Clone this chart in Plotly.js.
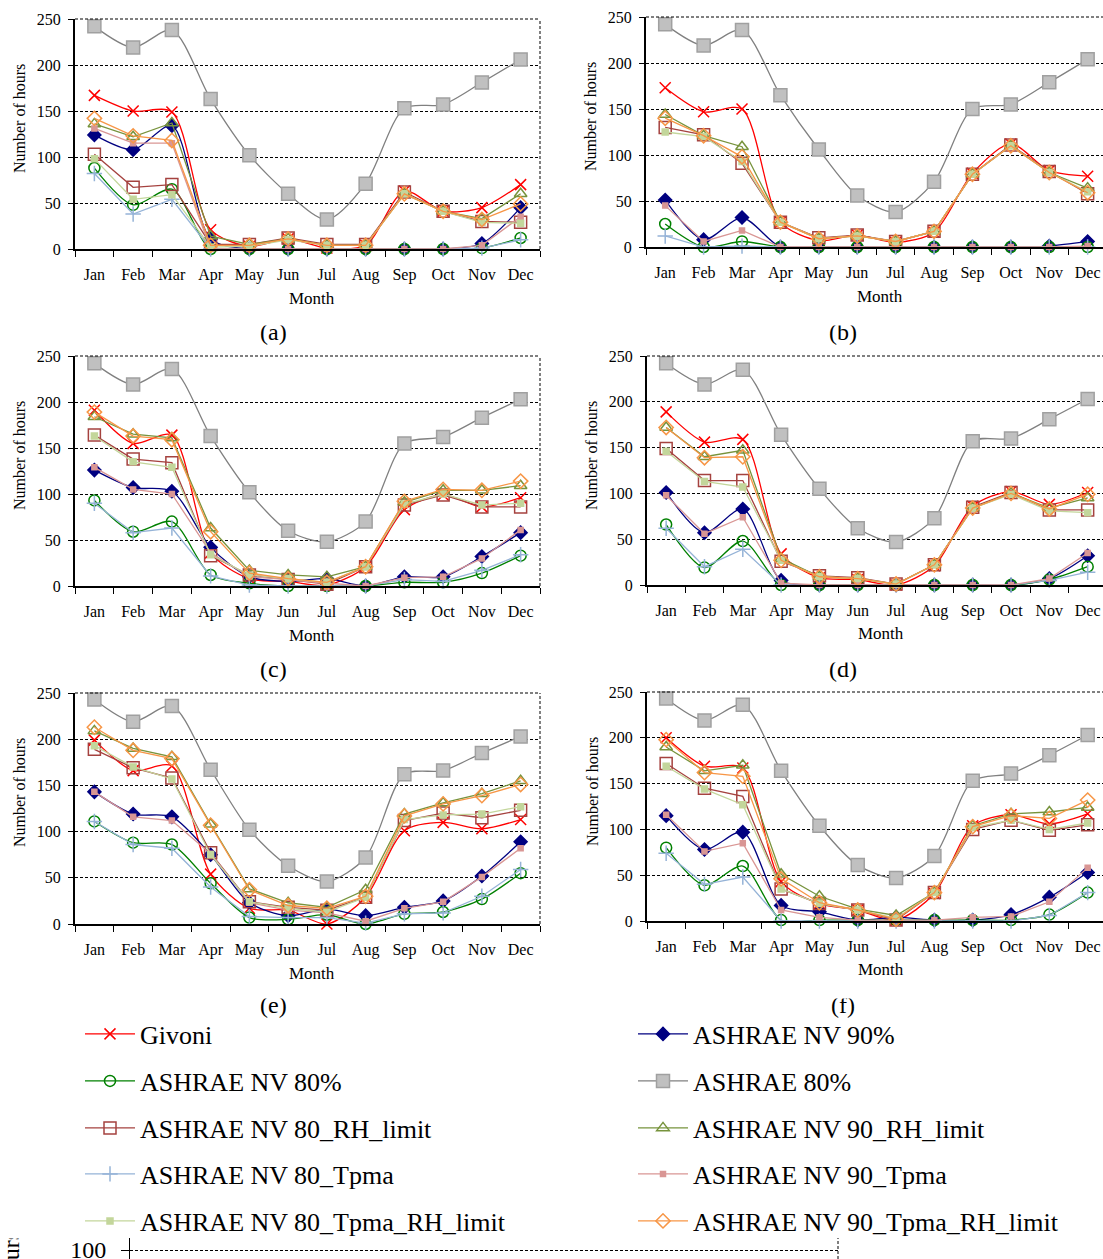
<!DOCTYPE html>
<html>
<head>
<meta charset="utf-8">
<script src="https://cdn.plot.ly/plotly-3.0.1.min.js"></script>
<style>html,body{margin:0;padding:0;background:#fff;}#chart{width:1103px;height:1259px;}</style>
</head>
<body>
<div id="chart"></div>
<script>
const months = ['Jan','Feb','Mar','Apr','May','Jun','Jul','Aug','Sep','Oct','Nov','Dec'];
const seriesNames = ['Givoni','ASHRAE NV 90%','ASHRAE NV 80%','ASHRAE 80%','ASHRAE NV 80_RH_limit','ASHRAE NV 90_RH_limit','ASHRAE NV 80_Tpma','ASHRAE NV 90_Tpma','ASHRAE NV 80_Tpma_RH_limit','ASHRAE NV 90_Tpma_RH_limit'];
const panelLabels = ['(a)','(b)','(c)','(d)','(e)','(f)'];
const yTicks = [0,50,100,150,200,250];

// rows follow seriesNames order
const panelA = [
  [167,150,149,21,3,11,1,4,63,41,45,70],
  [124,108,134,11,0,0,0,0,0,0,6,45],
  [88,48,65,0,0,0,0,0,0,0,1,12],
  [242,219,238,163,102,60,32,71,153,157,181,206],
  [103,67,70,5,5,12,5,5,62,41,30,29],
  [136,122,137,14,5,11,4,4,60,41,33,60],
  [82,38,54,0,0,0,0,0,0,0,1,10],
  [131,115,115,0,0,0,0,0,0,0,4,35],
  [98,54,59,2,3,10,4,4,60,41,29,28],
  [142,123,118,4,4,11,4,4,60,41,32,49]
];
const panelB = [
  [173,147,150,27,7,13,5,16,80,112,83,77],
  [51,8,32,0,0,0,0,0,0,0,1,6],
  [25,0,6,0,0,0,0,0,0,0,0,0],
  [242,219,236,165,106,56,38,71,150,155,179,204],
  [130,122,91,27,10,13,6,17,79,111,82,58],
  [144,121,109,27,9,12,6,17,79,110,81,64],
  [12,0,1,0,0,0,0,0,0,0,0,0],
  [45,6,18,0,0,0,0,0,0,0,0,1],
  [125,120,93,27,9,12,6,17,79,110,81,60],
  [140,121,98,27,9,12,6,17,79,110,81,59]
];
const panelC = [
  [191,155,164,36,8,5,1,21,83,99,86,96],
  [126,107,103,42,10,5,8,0,10,10,32,58],
  [93,59,70,12,3,0,0,0,4,4,14,33],
  [242,219,236,163,102,60,48,70,155,162,183,203],
  [164,138,134,33,12,7,2,21,88,99,86,86],
  [184,165,161,63,17,12,10,21,91,104,104,109],
  [90,58,63,11,1,0,0,0,7,5,17,34],
  [129,105,100,36,10,7,3,0,9,10,30,61],
  [163,135,129,34,12,8,4,21,89,100,88,90],
  [189,163,159,59,14,8,4,21,92,105,104,114]
];
const panelD = [
  [189,156,159,34,8,6,0,21,86,102,88,101],
  [101,57,83,5,0,0,0,0,0,0,7,32],
  [66,19,48,0,0,0,0,0,0,0,6,20],
  [242,219,235,164,105,62,47,73,157,160,181,203],
  [149,114,114,26,10,8,1,22,85,101,82,82],
  [172,140,147,29,9,7,1,22,84,100,84,95],
  [62,20,39,0,0,0,0,0,0,0,5,14],
  [98,56,74,2,0,0,0,0,0,0,7,35],
  [146,113,107,27,9,7,1,22,84,99,81,79],
  [172,139,140,27,9,7,1,22,84,100,83,99]
];
const panelE = [
  [199,166,171,54,17,15,0,29,101,110,103,113],
  [143,119,116,75,23,9,16,9,18,25,52,89],
  [111,88,86,44,7,5,10,0,11,13,27,55],
  [243,219,236,167,102,63,46,72,162,166,185,203],
  [189,169,158,77,24,18,15,29,112,120,115,123],
  [209,190,181,108,38,23,18,37,119,131,141,155],
  [111,86,82,40,8,7,7,1,11,12,30,59],
  [143,116,112,76,23,15,12,3,17,24,51,82],
  [193,170,157,75,24,17,13,29,113,118,119,127],
  [213,188,179,107,37,20,17,30,117,130,139,151]
];
const panelF = [
  [200,169,167,43,19,12,1,30,104,116,106,117],
  [115,78,97,17,10,1,4,1,1,7,26,53],
  [80,39,60,1,1,1,1,1,1,1,7,31],
  [243,219,236,164,104,61,47,71,153,161,181,203],
  [172,145,136,35,19,12,1,31,100,110,99,105],
  [190,164,170,51,27,13,6,31,104,117,119,124],
  [74,40,48,0,0,0,0,0,0,0,6,31],
  [116,76,85,12,4,1,1,1,4,5,21,58],
  [169,144,127,35,19,12,3,31,102,110,100,107],
  [198,162,158,46,20,12,2,31,103,115,112,132]
];
const panels = [panelA, panelB, panelC, panelD, panelE, panelF];
const partialTicks = [100];

const W = 1103, H = 1259;
const FONT = 'Liberation Serif, Times New Roman, serif';

const styles = [
  {color:'#FF0000', symbol:'x-thin-open', size:11, mline:'#FF0000', mfill:'#FF0000', shape:'spline'},
  {color:'#000080', symbol:'diamond', size:10, mline:'#000080', mfill:'#000080', shape:'spline'},
  {color:'#008000', symbol:'circle-open', size:11, mline:'#008000', mfill:'#008000', shape:'spline'},
  {color:'#808080', symbol:'square', size:13, mline:'#A0A0A0', mfill:'#C0C0C0', shape:'spline'},
  {color:'#A5423F', symbol:'square-open', size:12, mline:'#A5423F', mfill:'#A5423F', shape:'linear'},
  {color:'#77933C', symbol:'triangle-up-open', size:11, mline:'#77933C', mfill:'#77933C', shape:'linear'},
  {color:'#95B3D7', symbol:'cross-thin-open', size:11, mline:'#95B3D7', mfill:'#95B3D7', shape:'linear'},
  {color:'#D99694', symbol:'square', size:5, mline:'#D99694', mfill:'#D99694', shape:'linear'},
  {color:'#C3D69B', symbol:'square', size:6, mline:'#C3D69B', mfill:'#C3D69B', shape:'linear'},
  {color:'#F79646', symbol:'diamond-open', size:11, mline:'#F79646', mfill:'#F79646', shape:'linear'}
];

// panel geometry (pixels)
const geo = [
  {l:75, r:540, t:19, b:249, xr:11.5},
  {l:646, r:1103, t:17, b:247, xr:11.4},
  {l:75, r:540, t:356, b:586, xr:11.5},
  {l:647, r:1103, t:356, b:585, xr:11.4},
  {l:75, r:540, t:693, b:924, xr:11.5},
  {l:647, r:1103, t:692, b:921, xr:11.4}
];
const ytitlePos = [[20,119],[591,117],[20,456],[592,456],[20,793],[592,792]];
const monthPos = [[312,298],[880,296],[312,636],[881,633],[312,973],[881,969]];
const labelPos = [[273,332],[843,332],[273,669],[843,669],[273,1005],[843,1005]];
const labelClip = [326,326,663,663,999,999];

const data = [];
const layout = {
  width: W, height: H,
  margin: {l:0, r:0, t:0, b:0},
  paper_bgcolor: '#ffffff', plot_bgcolor: '#ffffff',
  font: {family: FONT, color: '#000000'},
  showlegend: true,
  shapes: [], annotations: []
};

panels.forEach((panel, pi) => {
  const n = pi === 0 ? '' : String(pi + 1);
  const xa = 'x' + n, ya = 'y' + n;
  const g = geo[pi];
  panel.forEach((vals, si) => {
    const s = styles[si];
    data.push({
      type: 'scatter', mode: 'lines+markers',
      x: months, y: vals, name: seriesNames[si],
      xaxis: xa, yaxis: ya,
      legend: si === 0 ? 'legend' : 'legend' + (si + 1),
      showlegend: pi === 0,
      cliponaxis: false,
      line: {color: s.color, width: 1.3, shape: s.shape, smoothing: 0.8},
      marker: {symbol: s.symbol, size: s.size, color: s.mfill, line: {color: s.mline, width: 1.5}}
    });
  });
  layout['xaxis' + n] = {
    domain: [g.l / W, g.r / W], anchor: ya,
    type: 'category', range: [-0.5, g.xr], tickangle: 0,
    tickson: 'boundaries', ticks: 'outside', ticklen: 6, tickwidth: 1, tickcolor: '#000',
    showline: true, linecolor: '#000', linewidth: 2,
    showgrid: false, zeroline: false, ticklabeloverflow: 'allow',
    tickfont: {size: 16, family: FONT}, ticklabelstandoff: 10, fixedrange: true
  };
  layout['yaxis' + n] = {
    domain: [1 - g.b / H, 1 - g.t / H], anchor: xa,
    range: [0, 250], tickvals: yTicks,
    ticks: 'outside', ticklen: 5, tickwidth: 1, tickcolor: '#000',
    showline: true, linecolor: '#000', linewidth: 2,
    showgrid: true, gridcolor: '#000', gridwidth: 1, griddash: '3px,2px',
    zeroline: false, tickfont: {size: 16, family: FONT}, ticklabelstandoff: 4, fixedrange: true
  };
  layout.shapes.push({type:'line', xref: xa + ' domain', yref: ya + ' domain', x0:0, x1:1, y0:1, y1:1,
    line:{color:'#000', width:1, dash:'3px,2px'}});
  if (g.xr >= 11.5) {
    layout.shapes.push({type:'line', xref: xa + ' domain', yref: ya + ' domain', x0:1, x1:1, y0:0, y1:1,
      line:{color:'#000', width:1, dash:'3px,2px'}});
  }
  layout.annotations.push({text:'Number of hours', xref:'paper', yref:'paper',
    x: ytitlePos[pi][0] / W, y: 1 - ytitlePos[pi][1] / H, textangle: -90, showarrow:false,
    font:{size:16, family: FONT}, xanchor:'center', yanchor:'middle'});
  layout.annotations.push({text:'Month', xref:'paper', yref:'paper',
    x: monthPos[pi][0] / W, y: 1 - monthPos[pi][1] / H, showarrow:false,
    font:{size:17, family: FONT}, xanchor:'center', yanchor:'middle'});
  layout.annotations.push({text: panelLabels[pi], xref:'paper', yref:'paper',
    x: labelPos[pi][0] / W, y: 1 - labelPos[pi][1] / H, showarrow:false,
    font:{size:24, family: FONT}, xanchor:'center', yanchor:'middle'});
});

// white strips hiding the top of the cropped panel letters
labelPos.forEach((p, i) => {
  layout.annotations.push({text:'\u00a0', xref:'paper', yref:'paper', x: p[0] / W, y: 1 - labelClip[i] / H,
    xanchor:'center', yanchor:'bottom', width: 60, height: 18, borderpad: 0,
    bgcolor:'#ffffff', showarrow:false, font:{size:10, color:'#ffffff'}});
});

// partial next figure cut at the bottom edge
data.push({type:'scatter', mode:'lines', x:[], y:[], xaxis:'x7', yaxis:'y7', showlegend:false});
layout.xaxis7 = {domain:[130/W, 838/W], anchor:'y7', range:[0,1], visible:false, fixedrange:true};
layout.yaxis7 = {domain:[0, 21/H], anchor:'x7', range:[97,104], tickvals: partialTicks,
  ticks:'outside', ticklen:8, tickcolor:'#000', showline:true, linecolor:'#000', linewidth:1,
  showgrid:true, gridcolor:'#000', griddash:'3px,2px', zeroline:false, ticklabeloverflow:'allow',
  tickfont:{size:24, family: FONT}, ticklabelstandoff: 10, fixedrange:true};
layout.shapes.push({type:'line', xref:'x7 domain', yref:'y7 domain', x0:1, x1:1, y0:0, y1:1,
  line:{color:'#000', width:1, dash:'3px,2px'}});
layout.annotations.push({text:'Number of hours', xref:'paper', yref:'paper', x: 11/W, y: 1 - 1313/H,
  textangle:-90, showarrow:false, font:{size:24, family: FONT}, xanchor:'center', yanchor:'middle'});
layout.annotations.push({text:'\u00a0', xref:'paper', yref:'paper', x: 11/W, y: 1 - 1239/H,
  xanchor:'center', yanchor:'bottom', width: 30, height: 16, borderpad: 0,
  bgcolor:'#ffffff', showarrow:false, font:{size:10, color:'#ffffff'}});

// legends: one per entry, two columns by five rows
const legendRows = [1034, 1081, 1128, 1174, 1221];
const legendCols = [80, 633];
seriesNames.forEach((nm, i) => {
  const key = i === 0 ? 'legend' : 'legend' + (i + 1);
  layout[key] = {
    orientation: 'h', x: legendCols[i % 2] / W, xanchor: 'left',
    y: 1 - legendRows[Math.floor(i / 2)] / H, yanchor: 'middle',
    itemwidth: 50,
    font: {size: 26, family: FONT, color: '#000'}, bgcolor: 'rgba(0,0,0,0)'
  };
});

Plotly.newPlot('chart', data, layout, {staticPlot: true, displayModeBar: false});
</script>
</body>
</html>
